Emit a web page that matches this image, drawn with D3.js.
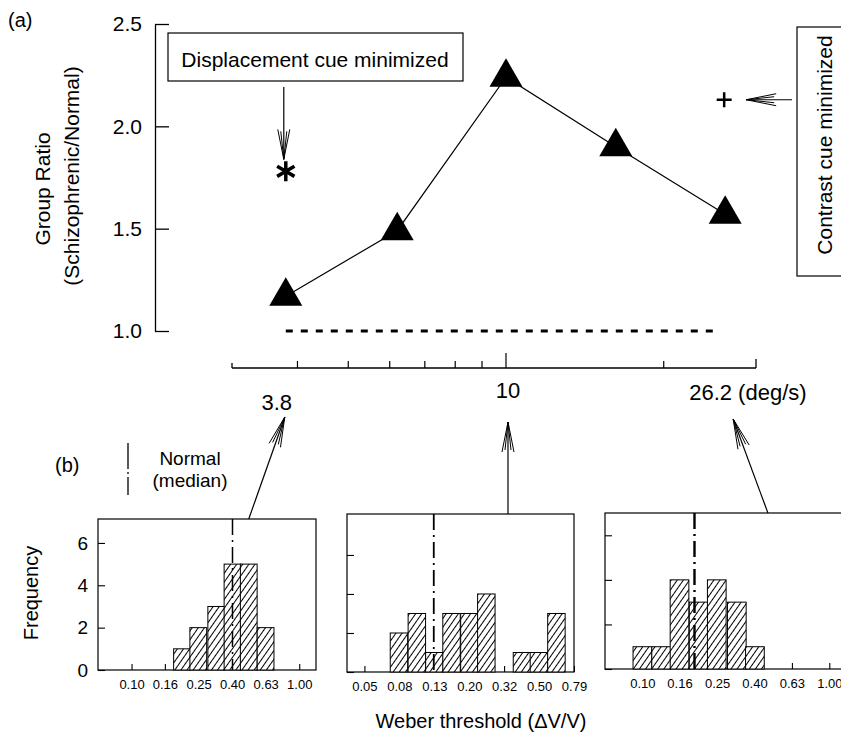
<!DOCTYPE html>
<html><head><meta charset="utf-8">
<script src="https://cdn.jsdelivr.net/npm/d3@7"></script>
<style>
body{margin:0;background:#fff}
svg{display:block}
text{font-family:"Liberation Sans", Arial, Helvetica, sans-serif; fill:#000}
</style>
</head><body>
<svg id="c" width="841" height="741"></svg>
<script>
// ---------- data: panel (a) ----------
const speeds = [3.8, 6.2, 10, 16.2, 26.2];           // deg/s
const groupRatio = [1.17, 1.49, 2.24, 1.90, 1.57];    // schizophrenic / normal
const displacementSpeed = [3.8];
const displacementRatio = [1.78];
const contrastSpeed = [26.2];
const contrastRatio = [2.13];
const ratioTicks = [1.0, 1.5, 2.0, 2.5];
const speedTicks = [4, 5, 6, 7, 8, 9, 10, 20];
const speedLabelValues = [3.8, 10, 26.2];
const speedLabelTexts = ["3.8", "10", "26.2 (deg/s)"];

// ---------- data: panel (b) histograms ----------
const binsSlow = [0.20, 0.25, 0.32, 0.40, 0.50, 0.63];
const countsSlow = [1, 2, 3, 5, 5, 2];
const binsMid = [0.079, 0.10, 0.126, 0.158, 0.20, 0.25, 0.32, 0.40, 0.50, 0.63];
const countsMid = [2, 3, 1, 3, 3, 4, 0, 1, 1, 3];
const binsFast = [0.10, 0.126, 0.158, 0.20, 0.25, 0.32, 0.40];
const countsFast = [1, 1, 4, 3, 4, 3, 1];
const normalMedians = [0.40, 0.125, 0.19];
const weberTicksA = [0.1, 0.158, 0.251, 0.398, 0.631, 1.0];
const weberTicksB = [0.0501, 0.0794, 0.126, 0.2, 0.316, 0.501, 0.794];
const freqTicks = [0, 2, 4, 6];

const svg = d3.select("#c");
const FS = 21;

// hatch pattern
const defs = svg.append("defs");
const pat = defs.append("pattern").attr("id","hatch").attr("patternUnits","userSpaceOnUse")
  .attr("width",5).attr("height",5).attr("patternTransform","rotate(35)");
pat.append("rect").attr("width",5).attr("height",5).attr("fill","#fff");
pat.append("line").attr("x1",2.5).attr("x2",2.5).attr("y1",-1).attr("y2",6)
  .attr("stroke","#000").attr("stroke-width",1);

function arrow(g, x1, y1, x2, y2) {
  g.append("line").attr("x1",x1).attr("y1",y1).attr("x2",x2).attr("y2",y2)
    .attr("stroke","#000").attr("stroke-width",1.2);
  const ang = Math.atan2(y1 - y2, x1 - x2);
  [[30, 6], [28, 3]].forEach(([L, w]) => {
    [-1, 1].forEach(s => {
      const bx = x2 + L*Math.cos(ang) - s*w*Math.sin(ang);
      const by = y2 + L*Math.sin(ang) + s*w*Math.cos(ang);
      g.append("line").attr("x1",x2).attr("y1",y2).attr("x2",bx).attr("y2",by)
        .attr("stroke","#000").attr("stroke-width",1);
    });
  });
}

// ================= panel (a) =================
const x = d3.scaleLog().domain([3, 30]).range([232, 756]);
const y = d3.scaleLinear().domain([1.0, 2.5]).range([331, 24]);
const gA = svg.append("g");

gA.append("text").attr("x",8).attr("y",27).attr("font-size",20).text("(a)");

const yAxis = d3.axisLeft(y).tickValues(ratioTicks).tickFormat(d3.format(".1f"))
  .tickSizeInner(-14).tickSizeOuter(0).tickPadding(13);
const gy = gA.append("g").attr("transform","translate(155,0)").call(yAxis);
gy.selectAll("text").attr("font-size",FS).style("font-family",'"Liberation Sans", Arial, sans-serif');
gy.selectAll("path,line").attr("stroke","#000").attr("stroke-width",1.3);

gA.append("text").attr("transform","translate(50,189) rotate(-90)").attr("text-anchor","middle")
  .attr("font-size",FS).text("Group Ratio");
gA.append("text").attr("transform","translate(79,176) rotate(-90)").attr("text-anchor","middle")
  .attr("font-size",FS).text("(Schizophrenic/Normal)");

gA.append("line").attr("x1",x(3.8)).attr("x2",x(25)).attr("y1",y(1)).attr("y2",y(1))
  .attr("stroke","#000").attr("stroke-width",3).attr("stroke-dasharray","7,8");

const line = d3.line().x((d,i)=>x(speeds[i])).y(d=>y(d));
gA.append("path").datum(groupRatio).attr("d",line).attr("fill","none")
  .attr("stroke","#000").attr("stroke-width",1.2);
gA.selectAll("path.tri").data(groupRatio).join("path").attr("class","tri")
  .attr("d", d3.symbol(d3.symbolTriangle, 472))
  .attr("transform",(d,i)=>`translate(${x(speeds[i])},${y(d)})`).attr("fill","#000");

gA.selectAll("path.ast").data(displacementRatio).join("path").attr("class","ast")
  .attr("d", d3.symbol(d3.symbolAsterisk, 283))
  .attr("transform",(d,i)=>`translate(${x(displacementSpeed[i])},${y(d)})`)
  .attr("fill","none").attr("stroke","#000").attr("stroke-width",3.5);
gA.selectAll("path.plus").data(contrastRatio).join("path").attr("class","plus")
  .attr("d", d3.symbol(d3.symbolPlus, 75))
  .attr("transform",(d,i)=>`translate(${x(contrastSpeed[i])-1},${y(d)})`)
  .attr("fill","none").attr("stroke","#000").attr("stroke-width",2.5);

gA.append("rect").attr("x",168).attr("y",33).attr("width",295).attr("height",48)
  .attr("fill","#fff").attr("stroke","#000").attr("stroke-width",1.2);
gA.append("text").attr("x",315).attr("y",67).attr("text-anchor","middle").attr("font-size",FS)
  .text("Displacement cue minimized");
arrow(gA, x(displacementSpeed[0])-2, 87, x(displacementSpeed[0])-2, y(displacementRatio[0]) - 12);

gA.append("rect").attr("x",797).attr("y",27).attr("width",70).attr("height",249)
  .attr("fill","#fff").attr("stroke","#000").attr("stroke-width",1.2);
gA.append("text").attr("transform","translate(832,145) rotate(-90)").attr("text-anchor","middle")
  .attr("font-size",FS).text("Contrast cue minimized");
arrow(gA, 792, y(contrastRatio[0]), x(contrastSpeed[0]) + 21, y(contrastRatio[0]));

const axY = 368;
const gx = gA.append("g");
gx.append("line").attr("x1",x(3)).attr("x2",x(30)).attr("y1",axY).attr("y2",axY)
  .attr("stroke","#000").attr("stroke-width",1.3);
gx.selectAll("line.end").data([3,30]).join("line").attr("class","end")
  .attr("x1",d=>x(d)).attr("x2",d=>x(d)).attr("y1",axY).attr("y2",(d,i)=>axY-(i?9:5))
  .attr("stroke","#000").attr("stroke-width",1.3);
gx.selectAll("line.tk").data(speedTicks).join("line").attr("class","tk")
  .attr("x1",d=>x(d)).attr("x2",d=>x(d)).attr("y1",axY).attr("y2",d=>d===10?axY-15:axY-7)
  .attr("stroke","#000").attr("stroke-width",1.2);
const labOff = [-9, 2, -36];
const labY = [410, 398, 400];
gx.selectAll("text").data(speedLabelValues).join("text")
  .attr("x",(d,i)=>x(d)+labOff[i]).attr("y",(d,i)=>labY[i])
  .attr("text-anchor",(d,i)=>i===2?"start":"middle").attr("font-size",22)
  .text((d,i)=>speedLabelTexts[i]);

// ================= panel (b) =================
const gB = svg.append("g");
gB.append("text").attr("x",55).attr("y",472).attr("font-size",20).text("(b)");
gB.append("line").attr("x1",128).attr("x2",128).attr("y1",443).attr("y2",495)
  .attr("stroke","#000").attr("stroke-width",1.3).attr("stroke-dasharray","26,3,2,3");
gB.append("text").attr("x",190).attr("y",465).attr("text-anchor","middle").attr("font-size",19).text("Normal");
gB.append("text").attr("x",190).attr("y",487).attr("text-anchor","middle").attr("font-size",19).text("(median)");

const panels = [
  {bins: binsSlow, counts: countsSlow, med: normalMedians[0], ticks: weberTicksA,
   dom: [Math.pow(10,-1.2), Math.pow(10,0.1)], xr: [98, 316], top: 519, bot: 670, ymax: 7.13, labels: true, medW: 1.5},
  {bins: binsMid, counts: countsMid, med: normalMedians[1], ticks: weberTicksB,
   dom: [Math.pow(10,-1.4), Math.pow(10,-0.1)], xr: [347, 574], top: 514, bot: 672, ymax: 8.1, labels: false, medW: 1.8},
  {bins: binsFast, counts: countsFast, med: normalMedians[2], ticks: weberTicksA,
   dom: [Math.pow(10,-1.2), Math.pow(10,0.1)], xr: [605, 848], top: 513, bot: 669, ymax: 7.0, labels: false, medW: 2.4}
];

const hw = Math.pow(10, 0.05);
panels.forEach((p, k) => {
  const hx = d3.scaleLog().domain(p.dom).range(p.xr);
  const hy = d3.scaleLinear().domain([0, p.ymax]).range([p.bot, p.top]);
  const g = gB.append("g");
  p.hx = hx;
  g.append("rect").attr("x",p.xr[0]).attr("y",p.top).attr("width",p.xr[1]-p.xr[0]).attr("height",p.bot-p.top)
    .attr("fill","#fff").attr("stroke","#000").attr("stroke-width",1.2);
  const ya = d3.axisLeft(hy).tickValues(freqTicks).tickSizeInner(-7).tickSizeOuter(0).tickPadding(10)
    .tickFormat(p.labels ? d3.format("d") : () => "");
  const gya = g.append("g").attr("transform",`translate(${p.xr[0]},0)`).call(ya);
  gya.select(".domain").remove();
  gya.selectAll("line").attr("stroke","#000").attr("stroke-width",1.1);
  gya.selectAll("text").attr("font-size",19).style("font-family",'"Liberation Sans", Arial, sans-serif');
  const xa = d3.axisBottom(hx).tickValues(p.ticks).tickSizeInner(-6).tickSizeOuter(0).tickPadding(10)
    .tickFormat(d3.format(".2f"));
  const gxa = g.append("g").attr("transform",`translate(0,${p.bot})`).call(xa);
  gxa.select(".domain").remove();
  gxa.selectAll("line").attr("stroke","#000").attr("stroke-width",1.1);
  gxa.selectAll("text").attr("font-size",13).style("font-family",'"Liberation Sans", Arial, sans-serif');
  const barData = p.counts.map((c, i) => ({b: p.bins[i], c})).filter(d => d.c > 0);
  g.selectAll("rect.bar").data(barData).join("rect").attr("class","bar")
    .attr("x",d=>hx(d.b/hw)).attr("width",d=>hx(d.b*hw)-hx(d.b/hw))
    .attr("y",d=>hy(d.c)).attr("height",d=>hy(0)-hy(d.c))
    .attr("fill","url(#hatch)").attr("stroke","#000").attr("stroke-width",1);
  g.append("line").attr("x1",hx(p.med)).attr("x2",hx(p.med)).attr("y1",p.top).attr("y2",p.bot)
    .attr("stroke","#000").attr("stroke-width",p.medW).attr("stroke-dasharray","16,5,2,5");
});

arrow(gB, panels[0].hx(0.5), panels[0].top, x(3.8)-1, 417);
arrow(gB, x(10)+2, panels[1].top, x(10)+2, 422);
arrow(gB, panels[2].hx(0.4)+13, panels[2].top, x(26.2)+8, 419);

gB.append("text").attr("transform","translate(38,593) rotate(-90)").attr("text-anchor","middle")
  .attr("font-size",20).text("Frequency");
gB.append("text").attr("x",481).attr("y",728).attr("text-anchor","middle").attr("font-size",20)
  .text("Weber threshold (\u0394V/V)");
</script>
</body></html>
